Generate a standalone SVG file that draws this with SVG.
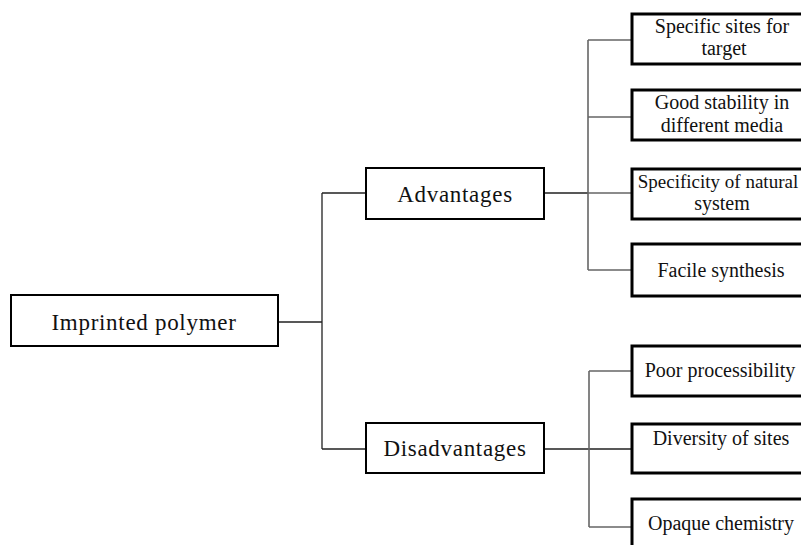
<svg xmlns="http://www.w3.org/2000/svg" width="801" height="545" viewBox="0 0 801 545">
<style>
.main{fill:#fff;stroke:#000;stroke-width:2}
.leaf{fill:#fff;stroke:#000;stroke-width:3}
.t{font-family:"Liberation Serif","Times New Roman",serif;fill:#111;text-anchor:middle}
.big{font-size:23px;letter-spacing:0.7px}
.sm{font-size:20px}
.xs{font-size:19px}
.c1{fill:none;stroke:#222;stroke-width:1.3}
.c2{fill:none;stroke:#666;stroke-width:1.6}
</style>
<rect width="801" height="545" fill="#fff"/>
<g id="connectors">
<path class="c1" d="M278 322H322M322 193V449M322 193H366M322 449H366"/>
<path class="c1" d="M544 193H588M544 449H631"/>
<path class="c2" d="M588 40V270M588 40H631M588 117H631M588 193H631M588 270H631"/>
<path class="c2" d="M589 371V527M589 371H631M589 527H631"/>
</g>
<g id="imprinted"><rect class="main" x="11" y="295" width="267" height="51"/><text class="t big" x="144" y="330">Imprinted polymer</text></g>
<g id="advantages"><rect class="main" x="366" y="168" width="178" height="51"/><text class="t big" x="455" y="202">Advantages</text></g>
<g id="disadvantages"><rect class="main" x="366" y="423" width="178" height="50"/><text class="t big" x="455" y="456">Disadvantages</text></g>
<g id="leaf1"><rect class="leaf" x="632" y="14" width="182" height="50"/><text class="t sm" x="722" y="33">Specific sites for</text><text class="t sm" x="724" y="55">target</text></g>
<g id="leaf2"><rect class="leaf" x="632" y="90" width="182" height="50"/><text class="t sm" x="722" y="109">Good stability in</text><text class="t sm" x="722" y="132">different media</text></g>
<g id="leaf3"><rect class="leaf" x="632" y="169" width="182" height="50"/><text class="t xs" x="718" y="188">Specificity of natural</text><text class="t sm" x="722" y="210">system</text></g>
<g id="leaf4"><rect class="leaf" x="632" y="244" width="182" height="52"/><text class="t sm" x="721" y="277">Facile synthesis</text></g>
<g id="leaf5"><rect class="leaf" x="632" y="346" width="182" height="50"/><text class="t sm" x="720" y="377">Poor processibility</text></g>
<g id="leaf6"><rect class="leaf" x="632" y="424" width="182" height="49"/><text class="t sm" x="721" y="445">Diversity of sites</text></g>
<g id="leaf7"><rect class="leaf" x="632" y="499" width="182" height="60"/><text class="t sm" x="721" y="530">Opaque chemistry</text></g>
</svg>
